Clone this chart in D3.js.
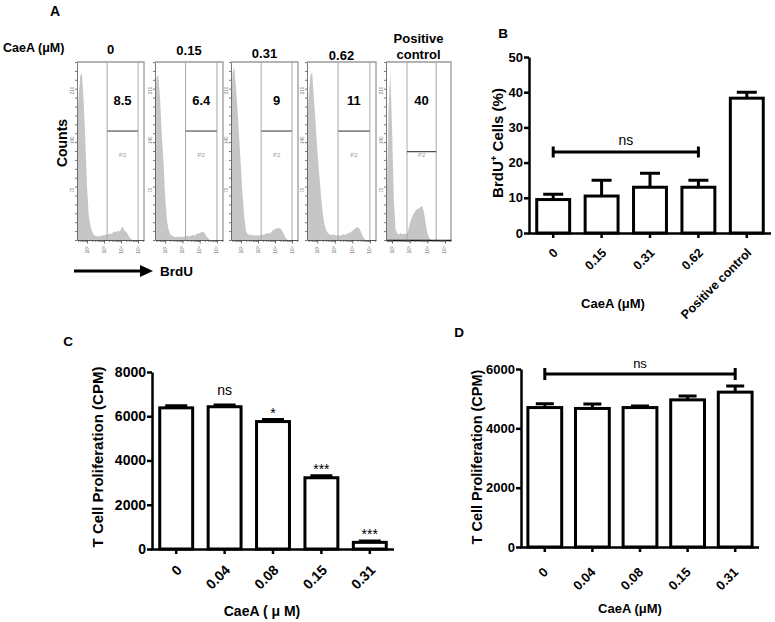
<!DOCTYPE html>
<html>
<head>
<meta charset="utf-8">
<script src="https://cdn.jsdelivr.net/npm/d3@7"></script>
<style>
  body { margin: 0; background: #fff; }
  svg { display: block; font-family: "Liberation Sans", Arial, sans-serif; }
</style>
</head>
<body>
<svg id="fig" width="775" height="622"></svg>
<script>
// ---------- panel A: BrdU flow histograms ----------
const aDoses = ['0', '0.15', '0.31', '0.62', 'Positive control'];
const aGatePct = ['8.5', '6.4', '9', '11', '40'];
const aLogStart = [1.4, 1.4, 1.4, 1.4, 1.7];   // log10 channel of first bin
const aLogStep = 0.1;
const aXDomain = [[1.41, 5.35], [1.41, 5.35], [1.41, 5.35], [1.41, 5.35], [1.66, 5.34]];
const aGateLo = [3.18, 3.18, 3.18, 3.18, 2.85];
const aGateHi = [5.0, 5.0, 5.0, 5.0, 4.5];
const aGateLevel = [153, 153, 153, 153, 124];

const hist0 = [150, 200, 230, 235, 195, 140, 75, 35, 20, 12, 7, 6, 5, 6, 5, 7, 6, 8, 7, 9, 8, 10, 12, 11, 13, 12, 15, 19, 13, 12, 8, 4, 1, 0, 0, 0, 0, 0, 0, 0];
const hist1 = [200, 228, 232, 200, 150, 110, 60, 28, 14, 8, 6, 5, 4, 5, 4, 5, 4, 5, 5, 6, 5, 6, 7, 6, 8, 9, 10, 11, 12, 9, 5, 2, 0, 0, 0, 0, 0, 0, 0, 0];
const hist2 = [180, 235, 243, 215, 180, 140, 100, 60, 30, 12, 8, 7, 8, 6, 7, 6, 7, 6, 8, 7, 8, 9, 10, 9, 12, 14, 15, 17, 16, 17, 14, 9, 4, 1, 0, 0, 0, 0, 0, 0];
const hist3 = [150, 200, 230, 236, 200, 165, 125, 95, 65, 40, 22, 14, 10, 8, 7, 8, 7, 6, 7, 6, 7, 8, 7, 9, 10, 11, 13, 15, 17, 18, 16, 11, 5, 1, 0, 0, 0, 0, 0, 0];
const hist4 = [60, 180, 236, 160, 60, 15, 9, 8, 10, 8, 9, 8, 12, 22, 30, 36, 40, 43, 44, 46, 48, 40, 25, 10, 3, 0, 0, 0, 0, 0, 0, 0, 0, 0, 0, 0, 0];
const histAll = [hist0, hist1, hist2, hist3, hist4];
const countMax = 250;

// ---------- panel B: BrdU+ cells ----------
const bCats = ['0', '0.15', '0.31', '0.62', 'Positive control'];
const bMeans = [9.5, 10.5, 13, 13, 38.3];
const bSem = [1.5, 4.5, 4, 2, 1.7];
const bTicks = [0, 10, 20, 30, 40, 50];

// ---------- panel C: T cell proliferation ----------
const cCats = ['0', '0.04', '0.08', '0.15', '0.31'];
const cMeans = [6380, 6430, 5760, 3220, 300];
const cSem = [90, 80, 90, 90, 60];
const cSig = ['', 'ns', '*', '***', '***'];
const cTicks = [0, 2000, 4000, 6000, 8000];

// ---------- panel D: T cell proliferation ----------
const dCats = ['0', '0.04', '0.08', '0.15', '0.31'];
const dMeans = [4700, 4670, 4700, 4960, 5220];
const dSem = [130, 150, 50, 130, 210];
const dTicks = [0, 2000, 4000, 6000];

const svg = d3.select('#fig');
svg.append('rect').attr('width', 775).attr('height', 622).attr('fill', '#fff');

function label(x, y, txt, size, opts) {
  opts = opts || {};
  return svg.append('text')
    .attr('x', x).attr('y', y)
    .attr('font-size', size)
    .attr('font-weight', opts.weight || 'bold')
    .attr('text-anchor', opts.anchor || 'middle')
    .attr('fill', opts.fill || '#000')
    .text(txt);
}

// ===== panel A =====
const aLeft = [77, 155, 231, 307, 386];
const aRight = [144, 223, 298, 376, 451];
const aHeadY = [54, 55, 58, 60, 59];
const aTop = 62, aBottom = 240;

label(55, 16, 'A', 14);
label(3, 52, 'CaeA (μM)', 12.5, {anchor: 'start'});

histAll.forEach((counts, i) => {
  const g = svg.append('g');
  const xs = d3.scaleLog()
    .domain(aXDomain[i].map(v => Math.pow(10, v)))
    .range([aLeft[i], aRight[i]]);
  const ys = d3.scaleLinear().domain([0, countMax]).range([aBottom, aTop]);

  svg.append('clipPath').attr('id', 'clip' + i)
    .append('rect')
    .attr('x', aLeft[i]).attr('y', aTop)
    .attr('width', aRight[i] - aLeft[i]).attr('height', aBottom - aTop);

  let pts = counts.map((c, k) => [Math.pow(10, aLogStart[i] + k * aLogStep), c]);
  let area = d3.area().x(d => xs(d[0])).y0(aBottom).y1(d => ys(d[1]));
  g.append('path')
    .attr('d', area(pts))
    .attr('fill', '#c6c6c6')
    .attr('clip-path', `url(#clip${i})`);

  // frame
  g.append('path')
    .attr('d', `M${aLeft[i]},${aTop}H${aRight[i]}V${aBottom}`)
    .attr('fill', 'none').attr('stroke', '#9a9a9a').attr('stroke-width', 1.3);

  // gate
  let gx0 = xs(Math.pow(10, aGateLo[i])), gx1 = xs(Math.pow(10, aGateHi[i]));
  [gx0, gx1].forEach(gx => {
    g.append('line').attr('x1', gx).attr('x2', gx).attr('y1', aTop).attr('y2', aBottom)
      .attr('stroke', '#a8a8a8').attr('stroke-width', 1);
  });
  g.append('line')
    .attr('x1', gx0).attr('x2', gx1)
    .attr('y1', ys(aGateLevel[i])).attr('y2', ys(aGateLevel[i]))
    .attr('stroke', i < 4 ? '#888' : '#222')
    .attr('stroke-width', i < 4 ? 1.7 : 1);
  g.append('text')
    .attr('x', (gx0 + gx1) / 2).attr('y', 157)
    .attr('text-anchor', 'middle').attr('font-size', 6).attr('fill', '#999')
    .text('P2');
  label((gx0 + gx1) / 2, 105, aGatePct[i], 13);

  // header
  let cx = (aLeft[i] + aRight[i]) / 2;
  if (aDoses[i].includes(' ')) {
    let words = aDoses[i].split(' ');
    label(cx, 43, words[0], 13);
    label(cx, 59, words[1], 13);
  } else {
    label(cx, aHeadY[i], aDoses[i], 13);
  }

  // left axis (counts)
  let yAx = g.append('g')
    .attr('transform', `translate(${aLeft[i]},0)`)
    .call(d3.axisLeft(ys).tickValues(d3.range(0, countMax + 1, 12.5)).tickSize(2).tickSizeOuter(0).tickFormat(''));
  yAx.selectAll('path,line').attr('stroke', '#555').attr('stroke-width', 0.8);
  [70, 140, 210].forEach(v => {
    g.append('text')
      .attr('transform', `translate(${aLeft[i] - 3},${ys(v)}) rotate(-90)`)
      .attr('text-anchor', 'middle').attr('font-size', 4.5).attr('fill', '#777')
      .text(v);
  });

  // bottom axis (log BrdU)
  let decades = [100, 1000, 10000, 100000];
  let minors = [];
  for (let dec = 10; dec <= 100000; dec *= 10) {
    for (let m = 2; m <= 9; m++) {
      let v = dec * m;
      if (v > xs.domain()[0] && v < xs.domain()[1]) minors.push(v);
    }
  }
  let xMin = g.append('g')
    .attr('transform', `translate(0,${aBottom})`)
    .call(d3.axisBottom(xs).tickValues(minors).tickSize(2).tickSizeOuter(0).tickFormat(''));
  xMin.selectAll('line').attr('stroke', '#555').attr('stroke-width', 0.7);
  xMin.select('.domain').attr('stroke', i < 4 ? '#555' : '#111').attr('stroke-width', i < 4 ? 1 : 1.4);
  let xMaj = g.append('g')
    .attr('transform', `translate(0,${aBottom})`)
    .call(d3.axisBottom(xs).tickValues(decades).tickSize(3.5).tickSizeOuter(0).tickFormat(''));
  xMaj.selectAll('line').attr('stroke', '#444').attr('stroke-width', 0.8);
  xMaj.select('.domain').remove();
  decades.forEach(v => {
    g.append('text')
      .attr('transform', `translate(${xs(v) + 1.5},${aBottom + 10}) rotate(-90)`)
      .attr('text-anchor', 'middle').attr('font-size', 5).attr('fill', '#666')
      .text('10' + ['²', '³', '⁴', '⁵'][decades.indexOf(v)]);
  });
});

// Counts label & BrdU arrow
svg.append('text')
  .attr('transform', 'translate(67,143) rotate(-90)')
  .attr('text-anchor', 'middle').attr('font-size', 14).attr('font-weight', 'bold')
  .text('Counts');
svg.append('line').attr('x1', 74).attr('x2', 144).attr('y1', 271).attr('y2', 271)
  .attr('stroke', '#000').attr('stroke-width', 3);
svg.append('path').attr('d', 'M140,265L153,271L140,277Z').attr('fill', '#000');
label(160, 276, 'BrdU', 13.5, {anchor: 'start'});

// ===== bar panels =====
function barChart(cfg) {
  const g = svg.append('g');
  const x = d3.scaleBand().domain(cfg.cats).range([cfg.x0, cfg.x1])
    .paddingInner(cfg.pad).paddingOuter(cfg.pad / 2);
  const y = d3.scaleLinear().domain([0, cfg.ymax]).range([cfg.y0, cfg.y1]);
  const cx = c => x(c) + x.bandwidth() / 2;

  g.selectAll('rect.bar')
    .data(cfg.means)
    .join('rect')
    .attr('x', (d, i) => x(cfg.cats[i]))
    .attr('y', d => y(d))
    .attr('width', x.bandwidth())
    .attr('height', d => y(0) - y(d))
    .attr('fill', '#fff').attr('stroke', '#000').attr('stroke-width', 3);

  // error bars (upper only)
  g.selectAll('path.err')
    .data(cfg.means)
    .join('path')
    .attr('d', (d, i) => {
      let xc = cx(cfg.cats[i]), top = y(d + cfg.sem[i]);
      return `M${xc},${y(d)}V${top}M${xc - cfg.capW / 2},${top}H${xc + cfg.capW / 2}`;
    })
    .attr('fill', 'none').attr('stroke', '#000').attr('stroke-width', 3);

  // y axis
  let yAx = g.append('g')
    .attr('transform', `translate(${cfg.x0},0)`)
    .call(d3.axisLeft(y).tickValues(cfg.ticks).tickFormat(d3.format('d'))
      .tickSize(5).tickSizeOuter(0).tickPadding(1));
  yAx.selectAll('path,line').attr('stroke', '#000').attr('stroke-width', 2.5);
  yAx.selectAll('text')
    .attr('font-size', cfg.tickFont).attr('font-weight', 'bold')
    .attr('font-family', '"Liberation Sans", Arial, sans-serif').attr('fill', '#000');

  // x axis
  let xAx = g.append('g')
    .attr('transform', `translate(0,${cfg.y0})`)
    .call(d3.axisBottom(x).tickSize(5).tickSizeOuter(0).tickFormat(''));
  xAx.select('.domain').attr('d', `M${cfg.x0 - 1},0.5H${cfg.x1}`);
  xAx.selectAll('path,line').attr('stroke', '#000').attr('stroke-width', 2.5);

  g.selectAll('text.xl')
    .data(cfg.cats)
    .join('text')
    .attr('transform', c => `translate(${cx(c) + cfg.lx},${cfg.y0 + cfg.ly}) rotate(-45)`)
    .attr('text-anchor', 'end')
    .attr('font-size', cfg.xFont).attr('font-weight', 'bold')
    .text(c => c);

  // titles
  let yt = g.append('text')
    .attr('transform', `translate(${cfg.ytX},${cfg.ytY}) rotate(-90)`)
    .attr('text-anchor', 'middle')
    .attr('font-size', cfg.ytFont).attr('font-weight', 'bold');
  if (cfg.ytParts) {
    yt.append('tspan').text(cfg.ytParts[0]);
    yt.append('tspan').attr('font-size', cfg.ytFont * 0.65).attr('dy', -6).text(cfg.ytParts[1]);
    yt.append('tspan').attr('dy', 6).text(cfg.ytParts[2]);
  } else {
    yt.text(cfg.ytitle);
  }
  g.append('text')
    .attr('x', cfg.xtX).attr('y', cfg.xtY)
    .attr('text-anchor', 'middle')
    .attr('font-size', cfg.xtFont).attr('font-weight', 'bold')
    .text(cfg.xtitle);

  return {g, x, y, cx};
}

// panel B
label(503, 38, 'B', 13.5);
const pB = barChart({
  cats: bCats, means: bMeans, sem: bSem, ticks: bTicks, ymax: 50,
  x0: 529, x1: 771, y0: 233, y1: 57, pad: 0.32, capW: 20,
  tickFont: 13, xFont: 12.5, lx: 5.5, ly: 20.5,
  ytParts: ['BrdU', '+', ' Cells (%)'], ytFont: 15, ytX: 503, ytY: 143,
  xtitle: 'CaeA (μM)', xtFont: 13, xtX: 613, xtY: 308
});
{
  let by = pB.y(23), xa = pB.cx('0'), xb = pB.cx('0.62');
  pB.g.append('path')
    .attr('d', `M${xa},${by - 5.5}V${by + 5.5}M${xa},${by}H${xb}M${xb},${by - 5.5}V${by + 5.5}`)
    .attr('fill', 'none').attr('stroke', '#000').attr('stroke-width', 3);
  pB.g.append('text').attr('x', (xa + xb) / 2).attr('y', by - 7)
    .attr('text-anchor', 'middle').attr('font-size', 14).text('ns');
}

// panel C
label(68, 346, 'C', 13.5);
const pC = barChart({
  cats: cCats, means: cMeans, sem: cSem, ticks: cTicks, ymax: 8000,
  x0: 152, x1: 394, y0: 549, y1: 372, pad: 0.32, capW: 22,
  tickFont: 14, xFont: 14, lx: 6.5, ly: 22,
  ytitle: 'T Cell Proliferation (CPM)', ytFont: 15, ytX: 103, ytY: 457,
  xtitle: 'CaeA ( μ M)', xtFont: 14, xtX: 262, xtY: 616
});
pC.g.selectAll('text.sig')
  .data(cSig)
  .join('text')
  .attr('x', (d, i) => pC.cx(cCats[i]))
  .attr('y', (d, i) => pC.y(cMeans[i] + cSem[i]) - 2 - (d === 'ns' ? 8 : 0))
  .attr('text-anchor', 'middle')
  .attr('font-size', 14)
  .text(d => d);

// panel D
label(459, 337, 'D', 13.5);
const pD = barChart({
  cats: dCats, means: dMeans, sem: dSem, ticks: dTicks, ymax: 6000,
  x0: 521, x1: 759, y0: 547, y1: 369, pad: 0.29, capW: 18,
  tickFont: 13, xFont: 13, lx: 4, ly: 26,
  ytitle: 'T Cell Proliferation (CPM)', ytFont: 14.5, ytX: 482, ytY: 457,
  xtitle: 'CaeA (μM)', xtFont: 13, xtX: 630, xtY: 613
});
{
  let by = pD.y(5830), xa = pD.cx('0'), xb = pD.cx('0.31');
  pD.g.append('path')
    .attr('d', `M${xa},${by - 6}V${by + 6}M${xa},${by}H${xb}M${xb},${by - 6}V${by + 6}`)
    .attr('fill', 'none').attr('stroke', '#000').attr('stroke-width', 3);
  pD.g.append('text').attr('x', (xa + xb) / 2).attr('y', by - 6)
    .attr('text-anchor', 'middle').attr('font-size', 13).text('ns');
}
</script>
</body>
</html>
